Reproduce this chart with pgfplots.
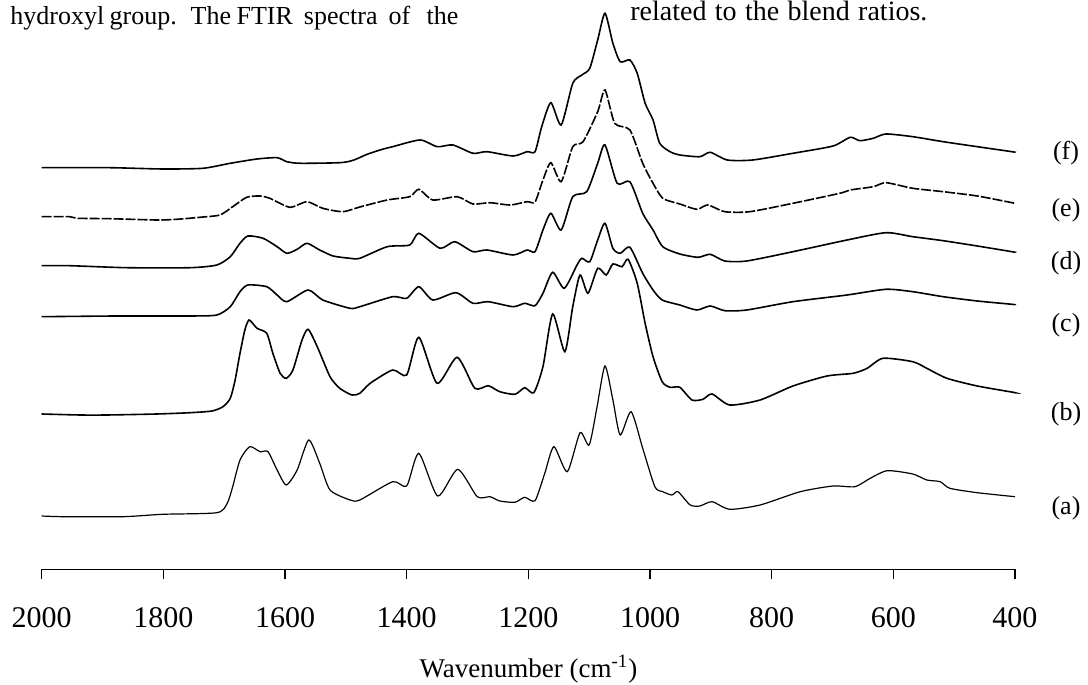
\documentclass[border=0pt]{standalone}
\usepackage{fontspec}
\setmainfont{Liberation Serif}
\usepackage{pgfplots}
\pgfplotsset{compat=1.18}
\pgfplotsset{spec/.style={black, line width=0.8pt, smooth, tension=0.4, mark=none}}
\begin{document}
\begin{tikzpicture}
\path[use as bounding box] (0,0) rectangle (544pt,342.5pt);
\begin{axis}[
  at={(20.85pt,57.85pt)}, anchor=south west,
  scale only axis, width=486.65pt, height=284.65pt,
  xmin=400, xmax=2000, ymin=0, ymax=5.693,
  x dir=reverse,
  axis x line=bottom, axis y line=none,
  x axis line style={-, line width=0.7pt},
  xtick={2000,1800,1600,1400,1200,1000,800,600,400},
  xticklabels={2000,1800,1600,1400,1200,1000,800,600,400},
  tick align=outside, major tick length=5pt,
  xtick style={line width=0.7pt, black},
  xticklabel style={font=\fontsize{15}{18}\selectfont, anchor=north, inner sep=0pt},
  xticklabel shift=13.7pt,
  clip=false,
]
% (f)
\addplot[spec] coordinates {(2000,4.016)(1888,4.016)(1801,4.003)(1735,4.010)(1690,4.060)(1646,4.103)(1613,4.116)(1597,4.076)(1575,4.060)(1510,4.066)(1488,4.090)(1465,4.150)(1440,4.200)(1423,4.226)(1378,4.293)(1350,4.226)(1324,4.243)(1291,4.160)(1268,4.176)(1225,4.133)(1202,4.176)(1189,4.176)(1178,4.426)(1163,4.666)(1146,4.443)(1127,4.860)(1112,4.943)(1099,5.010)(1086,5.293)(1074,5.560)(1061,5.260)(1049,5.076)(1033,5.093)(1021,4.960)(1008,4.660)(995,4.493)(984,4.260)(967,4.176)(951,4.143)(918,4.126)(901,4.170)(873,4.093)(831,4.093)(765,4.160)(699,4.233)(671,4.320)(655,4.286)(633,4.310)(612,4.353)(568,4.326)(518,4.276)(462,4.226)(405,4.176)(400,4.170)};
% (e)
\addplot[spec, dash pattern=on 5pt off 1pt] coordinates {(2000,3.526)(1954,3.526)(1942,3.510)(1888,3.506)(1811,3.493)(1778,3.500)(1740,3.520)(1707,3.543)(1686,3.626)(1663,3.720)(1641,3.733)(1625,3.710)(1592,3.620)(1564,3.676)(1538,3.610)(1505,3.576)(1477,3.623)(1432,3.693)(1395,3.726)(1380,3.800)(1357,3.693)(1317,3.726)(1291,3.653)(1263,3.666)(1230,3.643)(1202,3.676)(1189,3.673)(1176,3.893)(1163,4.066)(1146,3.876)(1127,4.226)(1110,4.276)(1086,4.576)(1074,4.793)(1058,4.460)(1033,4.393)(1012,4.060)(995,3.860)(979,3.710)(951,3.653)(923,3.600)(905,3.643)(877,3.576)(836,3.576)(765,3.660)(688,3.760)(671,3.793)(633,3.826)(612,3.866)(568,3.810)(518,3.776)(462,3.733)(405,3.666)(400,3.660)};
% (d)
\addplot[spec] coordinates {(2000,3.036)(1954,3.036)(1860,3.016)(1756,3.016)(1712,3.043)(1690,3.126)(1674,3.260)(1661,3.333)(1636,3.310)(1613,3.226)(1597,3.160)(1580,3.200)(1564,3.260)(1543,3.193)(1521,3.133)(1493,3.110)(1477,3.110)(1432,3.226)(1395,3.243)(1380,3.360)(1345,3.210)(1321,3.276)(1291,3.176)(1268,3.193)(1225,3.143)(1202,3.193)(1189,3.176)(1176,3.393)(1163,3.560)(1146,3.393)(1127,3.726)(1104,3.776)(1086,4.060)(1074,4.243)(1054,3.860)(1033,3.876)(1012,3.560)(995,3.393)(979,3.226)(951,3.153)(921,3.120)(901,3.150)(877,3.083)(841,3.083)(765,3.176)(676,3.293)(612,3.366)(568,3.326)(518,3.286)(462,3.233)(405,3.176)(400,3.170)};
% (c)
\addplot[spec] coordinates {(2000,2.526)(1876,2.533)(1756,2.533)(1712,2.543)(1690,2.626)(1674,2.776)(1661,2.843)(1630,2.826)(1613,2.743)(1597,2.676)(1562,2.793)(1538,2.693)(1493,2.610)(1477,2.626)(1423,2.726)(1400,2.710)(1380,2.826)(1357,2.693)(1319,2.766)(1291,2.660)(1266,2.676)(1225,2.626)(1206,2.660)(1189,2.636)(1176,2.760)(1160,2.970)(1141,2.810)(1120,3.043)(1112,3.110)(1099,3.076)(1086,3.293)(1074,3.460)(1061,3.210)(1049,3.160)(1033,3.220)(1012,2.960)(995,2.793)(980,2.693)(951,2.643)(923,2.593)(901,2.633)(877,2.586)(841,2.593)(765,2.676)(676,2.743)(612,2.800)(568,2.776)(518,2.726)(462,2.683)(405,2.650)(400,2.645)};
% (b)
\addplot[spec] coordinates {(2000,1.553)(1937,1.543)(1893,1.543)(1811,1.553)(1756,1.566)(1720,1.583)(1702,1.626)(1690,1.710)(1682,1.893)(1674,2.160)(1666,2.393)(1659,2.493)(1646,2.410)(1630,2.360)(1620,2.160)(1608,1.960)(1598,1.910)(1587,1.993)(1572,2.293)(1562,2.400)(1547,2.226)(1526,1.926)(1510,1.810)(1490,1.743)(1477,1.760)(1460,1.860)(1423,1.993)(1400,1.943)(1380,2.320)(1350,1.860)(1317,2.120)(1288,1.810)(1266,1.836)(1247,1.776)(1222,1.750)(1206,1.816)(1191,1.766)(1176,2.026)(1160,2.553)(1140,2.176)(1127,2.626)(1115,2.943)(1102,2.760)(1086,3.010)(1072,2.943)(1061,3.053)(1046,3.026)(1036,3.100)(1021,2.860)(1008,2.460)(995,2.126)(980,1.876)(967,1.820)(951,1.820)(931,1.693)(913,1.700)(898,1.753)(869,1.643)(819,1.693)(765,1.833)(709,1.933)(666,1.960)(643,2.010)(617,2.110)(568,2.076)(545,2.010)(512,1.910)(462,1.833)(403,1.770)(400,1.765)};
% (a)
\addplot[spec, line width=0.6pt] coordinates {(2000,0.533)(1965,0.526)(1866,0.526)(1801,0.550)(1712,0.566)(1695,0.660)(1686,0.826)(1674,1.093)(1658,1.226)(1641,1.176)(1628,1.176)(1613,0.993)(1598,0.843)(1580,0.993)(1561,1.293)(1543,1.060)(1526,0.793)(1493,0.693)(1477,0.693)(1423,0.876)(1400,0.833)(1380,1.160)(1349,0.733)(1316,1.000)(1284,0.726)(1263,0.726)(1247,0.683)(1222,0.670)(1206,0.720)(1189,0.686)(1173,0.960)(1158,1.226)(1136,0.976)(1115,1.366)(1100,1.243)(1087,1.626)(1074,2.033)(1061,1.693)(1049,1.343)(1031,1.576)(1012,1.210)(992,0.826)(979,0.776)(964,0.743)(954,0.776)(934,0.643)(918,0.633)(898,0.676)(869,0.600)(819,0.643)(753,0.776)(699,0.833)(663,0.826)(638,0.910)(610,0.986)(568,0.953)(545,0.893)(523,0.876)(507,0.810)(462,0.766)(400,0.726)};
\end{axis}
\begin{scope}[every node/.style={inner sep=0pt, font=\fontsize{13}{15}\selectfont}]
\node at (533pt,265.85pt) {(f)};
\node at (533pt,237.5pt) {(e)};
\node at (533pt,210.85pt) {(d)};
\node at (533pt,180pt) {(c)};
\node at (533pt,135.5pt) {(b)};
\node at (533pt,88.35pt) {(a)};
\end{scope}
\node[anchor=base, inner sep=0pt, font=\fontsize{13.5}{16}\selectfont] at (264.2pt,3.5pt) {Wavenumber (cm\textsuperscript{-1})};
\node[anchor=base west, inner sep=0pt, font=\fontsize{13}{15}\selectfont] at (5pt,330pt) {\makebox[224pt][s]{hydroxyl group. \ The FTIR \ spectra \ of \ \ the}};
\node[anchor=base west, inner sep=0pt, font=\fontsize{14}{16}\selectfont] at (315pt,332pt) {\makebox[148.5pt][s]{related to the blend ratios.}};
\end{tikzpicture}
\end{document}
